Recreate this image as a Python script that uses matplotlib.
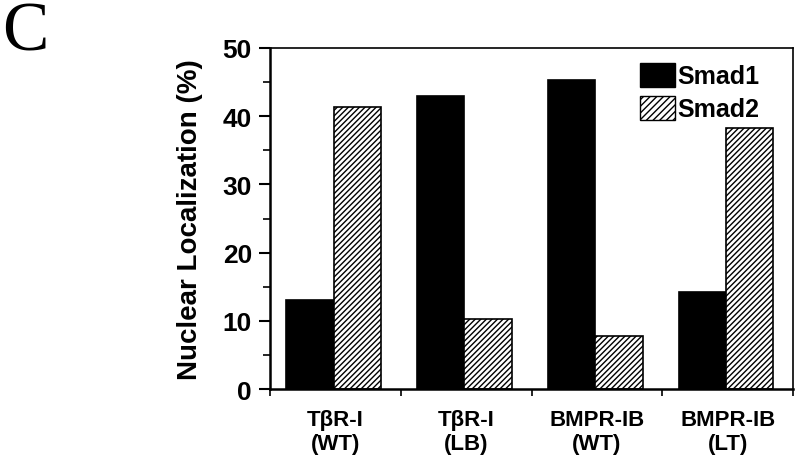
import matplotlib
matplotlib.use('Agg')
import matplotlib.pyplot as plt
import numpy as np
from matplotlib.patches import Patch

groups = ['T\u03b2R-I\n(WT)', 'T\u03b2R-I\n(LB)', 'BMPR-IB\n(WT)', 'BMPR-IB\n(LT)']
smad1 = [13.1, 43.0, 45.3, 14.2]
smad2 = [41.3, 10.2, 7.8, 38.3]
series_names = ['Smad1', 'Smad2']

plt.rcParams['font.family'] = ['Liberation Sans', 'DejaVu Sans']
plt.rcParams['font.weight'] = 'bold'
plt.rcParams['hatch.linewidth'] = 1.0

fig = plt.figure(figsize=(8, 4.6), dpi=100)
ax = fig.add_axes([0.3375, 0.152, 0.654, 0.7415])

x = np.arange(len(groups))
w = 0.362
ax.bar(x - 0.375, smad1, width=w, align='edge', color='black',
       edgecolor='black', lw=1.2)
ax.bar(x - 0.013, smad2, width=w, align='edge', color='white',
       edgecolor='black', hatch='//////', lw=1.2)

ax.set_xlim(-0.5, len(groups) - 0.5)
ax.set_ylim(0, 50)
ax.set_yticks(np.arange(0, 51, 10))
ax.set_yticks(np.arange(5, 50, 10), minor=True)
ax.set_xticks(x)
ax.set_xticklabels(groups, fontsize=16, fontweight='bold', linespacing=1.2)
ax.set_xticks(np.arange(-0.5, len(groups), 1), minor=True)
ax.tick_params(axis='x', which='major', length=0, pad=14)
ax.tick_params(axis='x', which='minor', length=5, width=1.2, direction='out')
ax.tick_params(axis='y', which='major', length=8, width=1.5, labelsize=19, pad=5)
ax.tick_params(axis='y', which='minor', length=5, width=1.2)
for lab in ax.get_yticklabels():
    lab.set_fontweight('bold')

for s in ax.spines.values():
    s.set_linewidth(1.2)
ax.spines['left'].set_linewidth(1.8)
ax.spines['bottom'].set_linewidth(1.8)

ax.set_ylabel('Nuclear Localization (%)', fontsize=20, fontweight='bold',
              labelpad=14)

handles = [Patch(facecolor='black', edgecolor='black'),
           Patch(facecolor='white', edgecolor='black', hatch='/////')]
ax.legend(handles, series_names, loc='upper right', frameon=False,
          prop={'size': 18, 'weight': 'bold'}, handlelength=1.4,
          handleheight=1.1, handletextpad=0.1, labelspacing=0.3,
          borderaxespad=0.2, bbox_to_anchor=(0.965, 1.0))

fig.text(0.003, 0.995, 'C', fontsize=50, family='Liberation Serif',
         fontweight='normal', va='top', ha='left')

fig.savefig('out.png', dpi=100)
